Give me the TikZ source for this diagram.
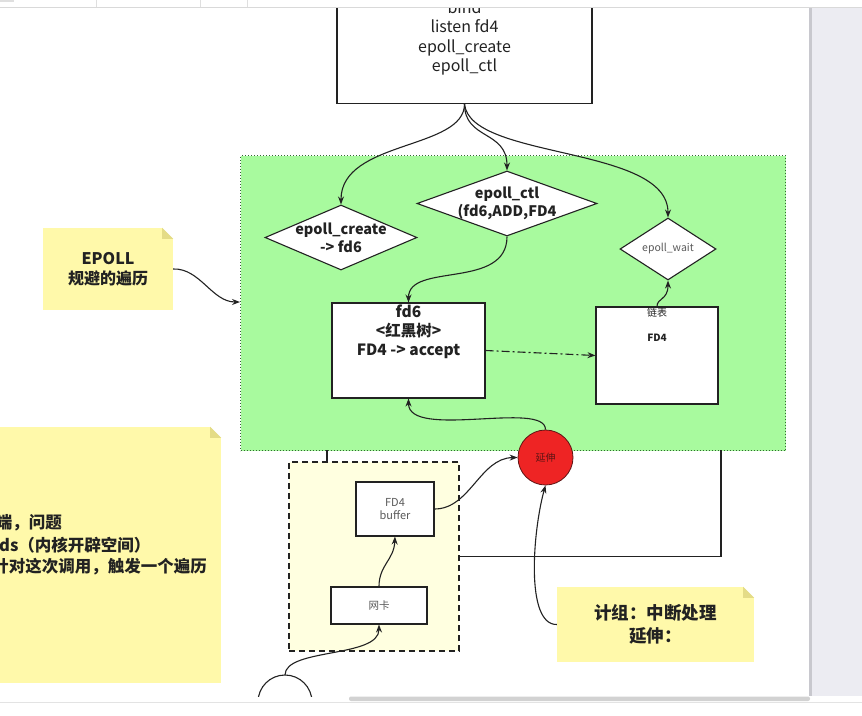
\documentclass[tikz,border=0pt]{standalone}
\usepackage{fontspec}
\setmainfont{Noto Sans CJK SC}
\usetikzlibrary{shapes.geometric,arrows.meta}
\definecolor{grn}{RGB}{168,250,158}
\definecolor{grnedge}{RGB}{50,105,50}
\definecolor{notey}{RGB}{255,249,170}
\definecolor{foldy}{RGB}{228,220,135}
\definecolor{paley}{RGB}{255,255,224}
\definecolor{redc}{RGB}{238,36,36}
\definecolor{redt}{RGB}{95,20,20}
\definecolor{panel}{RGB}{236,236,242}
\definecolor{panedge}{RGB}{200,200,206}
\definecolor{ink}{RGB}{34,34,34}
\definecolor{grayt}{RGB}{90,90,90}
\newcommand{\fsz}[2]{\fontsize{#1}{#2}\selectfont}
\tikzset{
  boxst/.style={draw=ink, line width=1.1pt, fill=white, inner sep=0pt},
  diam/.style={diamond, draw=ink, line width=1.1pt, fill=white, inner sep=0pt},
  txt/.style={inner sep=0pt, align=center, text=ink},
  arr/.style={draw=ink, line width=1.1pt, -{Stealth[length=8pt,width=6pt]}},
  plain/.style={draw=ink, line width=1.1pt},
  notest/.style={fill=notey, inner sep=0pt, align=center, text=ink},
  notetxt/.style={inner sep=0pt, text=ink, font=\bfseries\fsz{16.5}{20}},
}
\begin{document}
\begin{tikzpicture}[x=1pt,y=-1pt]
\useasboundingbox (0,0) rectangle (862,715);
\fill[white] (0,0) rectangle (862,715);
\begin{scope}
\clip (0,7.5) rectangle (810,696);
% big left note
\node[notest, minimum width=222pt, minimum height=256pt] (bign) at (110,555) {};
\fill[white] (bign.north east) ++(-11,0) -- (bign.north east) -- ++(0,11) -- cycle;
\fill[foldy] (bign.north east) ++(-11,0) -- ++(0,11) -- ++(11,0) -- cycle;
\node[notetxt, anchor=east] (bl1) at (62,523) {端，问题};
\node[notetxt, anchor=west] (bl2) at (-1,545) {ds（内核开辟空间）};
\node[notetxt, anchor=east] (bl3) at (207,567) {针对这次调用，触发一个遍历};
% EPOLL note
\node[notest, minimum width=130pt, minimum height=82pt, font=\bfseries\fsz{16}{20}] (en) at (108,269) {EPOLL\\规避的遍历};
\fill[white] (en.north east) ++(-11,0) -- (en.north east) -- ++(0,11) -- cycle;
\fill[foldy] (en.north east) ++(-11,0) -- ++(0,11) -- ++(11,0) -- cycle;
% green area
\node[fill=grn, draw=grnedge, dotted, line width=1pt, minimum width=545pt, minimum height=295pt, anchor=north west, inner sep=0pt] (grn) at (240,155) {};
% top box
\node[boxst, minimum width=255pt, minimum height=160pt, anchor=south] (tb) at (464.5,104) {};
\node[txt, font=\fsz{16}{19.5}] (tbt) at (464.5,38) {bind\\listen fd4\\epoll\_create\\epoll\_ctl};
% diamonds
\node[diam, minimum width=152pt, minimum height=65pt] (d1) at (341,237.5) {};
\node[txt, font=\bfseries\fsz{14.5}{18}] (d1t) at (d1.center) {epoll\_create\\-> fd6};
\node[diam, minimum width=180pt, minimum height=65pt] (d2) at (507,203.5) {};
\node[txt, font=\bfseries\fsz{14.5}{18}] (d2t) at (d2.center) {epoll\_ctl\\(fd6,ADD,FD4};
\node[diam, minimum width=96pt, minimum height=62pt] (d3) at (668,249) {};
\node[txt, text=grayt, font=\fsz{10.5}{12}] (d3t) at (d3.center) {epoll\_wait};
% fd6 box
\node[boxst, minimum width=153pt, minimum height=95pt] (fd6) at (408.5,350.5) {};
\node[txt, font=\bfseries\fsz{15.5}{19}] (fd6t) at (408.5,332) {fd6\\<红黑树>\\FD4 -> accept};
% list box
\node[boxst, minimum width=122pt, minimum height=97pt] (lb) at (657,355.5) {};
\node[txt, font=\fsz{10}{12}] (lbt1) at (657,313) {链表};
\node[txt, font=\bfseries\fsz{10}{12}] (lbt2) at (657,338) {FD4};
% red circle
\node[circle, fill=redc, draw=redt, line width=0.8pt, minimum size=55pt, inner sep=0pt, text=redt, font=\fsz{10}{12}] (c) at (545.5,457.5) {延伸};
% dashed box
\node[fill=paley, draw=ink, line width=1.1pt, dash pattern=on 6pt off 4pt, minimum width=170pt, minimum height=189pt, inner sep=0pt] (dbx) at (374,556.5) {};
\node[boxst, minimum width=78pt, minimum height=54pt, text=grayt, align=center, font=\fsz{11}{12.5}] (buf) at (395,509) {FD4\\buffer};
\node[boxst, minimum width=96pt, minimum height=37pt, text=grayt, font=\fsz{10.5}{12}] (nk) at (379,605.5) {网卡};
% jizu note
\node[notest, minimum width=197pt, minimum height=75pt, font=\bfseries\fsz{17.5}{23}] (jz) at (655.5,624.5) {计组：中断处理\\延伸：};
\fill[white] (jz.north east) ++(-11,0) -- (jz.north east) -- ++(0,11) -- cycle;
\fill[foldy] (jz.north east) ++(-11,0) -- ++(0,11) -- ++(11,0) -- cycle;
% cloud arc
\coordinate (cl) at (285,675);
\draw[plain] (258,702) arc[start angle=180, end angle=360, radius=27];
% connectors
\coordinate (tbs) at (464.5,104);
\draw[arr] (tbs) .. controls (464.5,150) and (341,140) .. (d1.north);
\draw[arr] (tbs) .. controls (464.5,140) and (507,130) .. (d2.north);
\draw[arr] (tbs) .. controls (470,160) and (668,145) .. (d3.north);
\draw[arr] (d2.south) .. controls (507,290) and (408.5,262) .. (fd6.north);
\draw[arr, dash pattern=on 8pt off 3pt on 2pt off 3pt] (fd6.east) -- (lb.west);
\draw[arr] (lb.north) .. controls (657,298) and (668,300) .. (d3.south);
\draw[arr] (c.north) .. controls (545.5,400) and (408.5,440) .. (fd6.south);
\draw[arr] (en.east) .. controls (200,268) and (212,302) .. (grn.west |- 0,302);
\coordinate (g1) at (327,450);
\coordinate (g2) at (327,462);
\draw[plain] (g1) -- (g2);
\coordinate (g3) at (721,450);
\draw[plain] (dbx.east) -- (721,556.5) -- (g3);
\draw[arr] (buf.east) .. controls (470,509) and (480,458) .. (c.west);
\draw[arr] (nk.north) .. controls (379,565) and (394,560) .. (buf.south);
\draw[arr] (cl) .. controls (285,648) and (379,658) .. (nk.south);
\draw[arr] (jz.west) .. controls (525,625) and (533,530) .. (c.south);
\end{scope}
% window chrome
\fill[panel] (810,7.5) rectangle (862,696);
\fill[panedge] (809,7.5) rectangle (812,696);
\draw[gray!30, line width=1pt] (0,7) -- (862,7);
\draw[gray!25, line width=0.8pt] (96,0) -- (96,7);
\draw[gray!25, line width=0.8pt] (200,0) -- (200,7);
\draw[gray!25, line width=0.8pt] (247,0) -- (247,7);
\fill[gray!25] (0,0) rectangle (14,2);
\fill[gray!35, rounded corners=2pt] (349,696.5) rectangle (810,701);
\draw[gray!22, line width=0.8pt] (0,702.5) -- (862,702.5);
\end{tikzpicture}
\end{document}
